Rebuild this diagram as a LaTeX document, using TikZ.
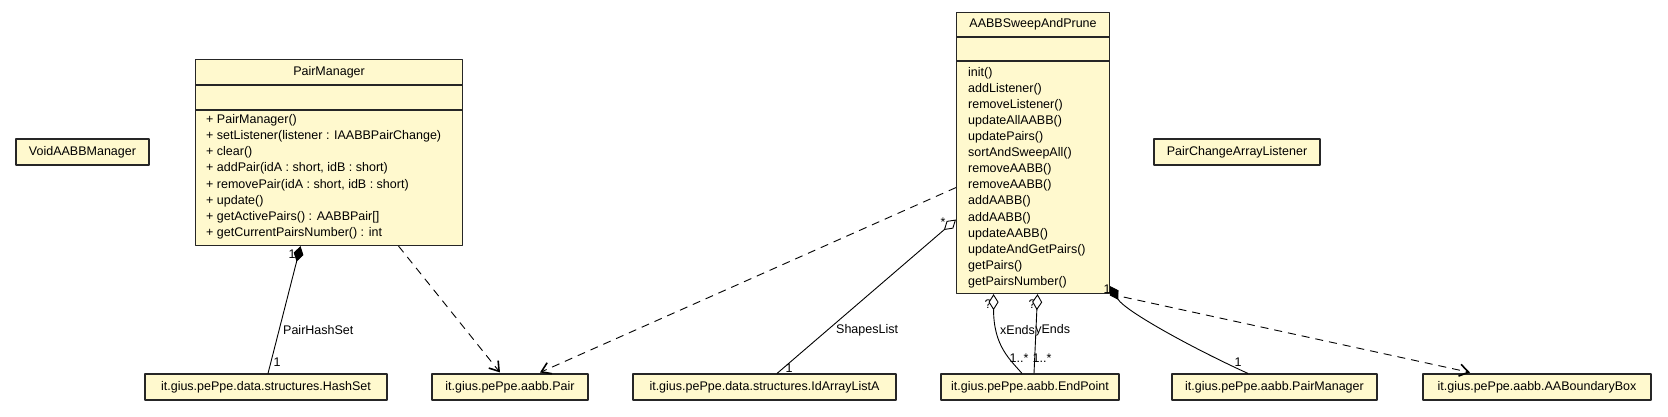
\documentclass[tikz,border=0pt]{standalone}
\usepackage{fontspec}
\setmainfont{Liberation Sans}
\usetikzlibrary{arrows.meta}
\definecolor{classfill}{RGB}{255,249,206}
\begin{document}
\begin{tikzpicture}[>={Straight Barb[length=9pt,width=12pt,line width=1.6pt]},line join=round,x=1pt,y=-1pt,
	font=\fontsize{12.5}{16.1}\selectfont,
	cls/.style={draw=black!85,line width=1.1pt,fill=classfill,inner sep=0pt},
	sep/.style={draw=black!85,line width=1.1pt},
	conn/.style={line width=0.9pt},
	dep/.style={conn,dash pattern=on 8pt off 6pt,->},
	comp/.style={conn,{Diamond[length=16pt,width=10pt,fill=black]}-},
	aggr/.style={conn,{Diamond[length=16pt,width=10pt,open,fill=white]}-},
	lbl/.style={inner sep=0pt}]
	\useasboundingbox (0,0) rectangle (1668,416);
	\node[cls,minimum width=133,minimum height=26] (vam) at (82.5,152) {VoidAABBManager};
	\node[cls,minimum width=166,minimum height=26] (pcal) at (1237,152) {PairChangeArrayListener};
	\node[cls,minimum width=267,minimum height=186,anchor=north west] (pm) at (195,59) {};
	\draw[sep] ([yshift=-26pt]pm.north west)--([yshift=-26pt]pm.north east);
	\draw[sep] ([yshift=-51pt]pm.north west)--([yshift=-51pt]pm.north east);
	\node (pmName) at ([yshift=-13pt]pm.north) {PairManager};
	\node[anchor=north west,align=left,inner sep=0pt] (pmOps) at ([xshift=11pt,yshift=-55.4pt]pm.north west)
	{+ PairManager()\\+ setListener(listener : IAABBPairChange)\\+ clear()\\+ addPair(idA : short, idB : short)\\
	+ removePair(idA : short, idB : short)\\+ update()\\+ getActivePairs() : AABBPair[]\\+ getCurrentPairsNumber() : int};
	\node[cls,minimum width=153,minimum height=281,anchor=north west] (sap) at (956,12) {};
	\draw[sep] ([yshift=-25pt]sap.north west)--([yshift=-25pt]sap.north east);
	\draw[sep] ([yshift=-49pt]sap.north west)--([yshift=-49pt]sap.north east);
	\node (sapName) at ([yshift=-12.5pt]sap.north) {AABBSweepAndPrune};
	\node[anchor=north west,align=left,inner sep=0pt] (sapOps) at ([xshift=12pt,yshift=-54.9pt]sap.north west)
	{init()\\addListener()\\removeListener()\\updateAllAABB()\\updatePairs()\\sortAndSweepAll()\\removeAABB()\\
	removeAABB()\\addAABB()\\addAABB()\\updateAABB()\\updateAndGetPairs()\\getPairs()\\getPairsNumber()};
	\node[cls,minimum width=242,minimum height=26] (hs) at (266,387) {it.gius.pePpe.data.structures.HashSet};
	\node[cls,minimum width=156,minimum height=26] (pair) at (510,387) {it.gius.pePpe.aabb.Pair};
	\node[cls,minimum width=263,minimum height=26] (ida) at (764.5,387) {it.gius.pePpe.data.structures.IdArrayListA};
	\node[cls,minimum width=178,minimum height=26] (ep) at (1030,387) {it.gius.pePpe.aabb.EndPoint};
	\node[cls,minimum width=205,minimum height=26] (pmb) at (1274.5,387) {it.gius.pePpe.aabb.PairManager};
	\node[cls,minimum width=228,minimum height=26] (abb) at (1537,387) {it.gius.pePpe.aabb.AABoundaryBox};
	\node[lbl] (pmOne) at (292,254) {1};
	\node[lbl,anchor=west] (phsName) at (283,330) {PairHashSet};
	\node[lbl] (hsOne) at (277,362) {1};
	\node[lbl] (slStar) at (943,222) {*};
	\node[lbl,anchor=west] (slName) at (836,330) {ShapesList};
	\node[lbl] (idaOne) at (789,368) {1};
	\node[lbl] (xQ) at (988,304) {?};
	\node[lbl] (yQ) at (1032,304) {?};
	\node[lbl,anchor=west] (xName) at (1000,330) {xEnds};
	\node[lbl,anchor=west] (yName) at (xName.east) {yEnds};
	\node[lbl] (xMult) at (1019,358) {1..*};
	\node[lbl] (yMult) at (1042,358) {1..*};
	\node[lbl] (sapOne) at (1107,289) {1};
	\node[lbl] (pmbOne) at (1238,362) {1};
	\draw[comp] ([xshift=-28.5pt]pm.south)--([xshift=2pt]hs.north);
	\draw[dep] ([xshift=69.5pt]pm.south)--([xshift=-10pt,yshift=1pt]pair.north);
	\draw[dep] ([yshift=-34.5pt]sap.west)--([xshift=30pt,yshift=1pt]pair.north);
	\draw[aggr] ([yshift=-66.5pt]sap.west)--([xshift=12.5pt]ida.north);
	\draw[aggr] ([xshift=-39.5pt]sap.south) .. controls +(0,52) and +(-12,-14) .. ([xshift=-8pt]ep.north);
	\draw[aggr] ([xshift=4.5pt]sap.south)--([xshift=4pt]ep.north);
	\draw[comp] ([yshift=8pt]sap.south east) .. controls +(15,25) and +(-55,-25) .. ([xshift=-26.5pt]pmb.north);
	\draw[dep] (sap.south east)--([xshift=-67pt,yshift=1pt]abb.north);
\end{tikzpicture}
\end{document}
